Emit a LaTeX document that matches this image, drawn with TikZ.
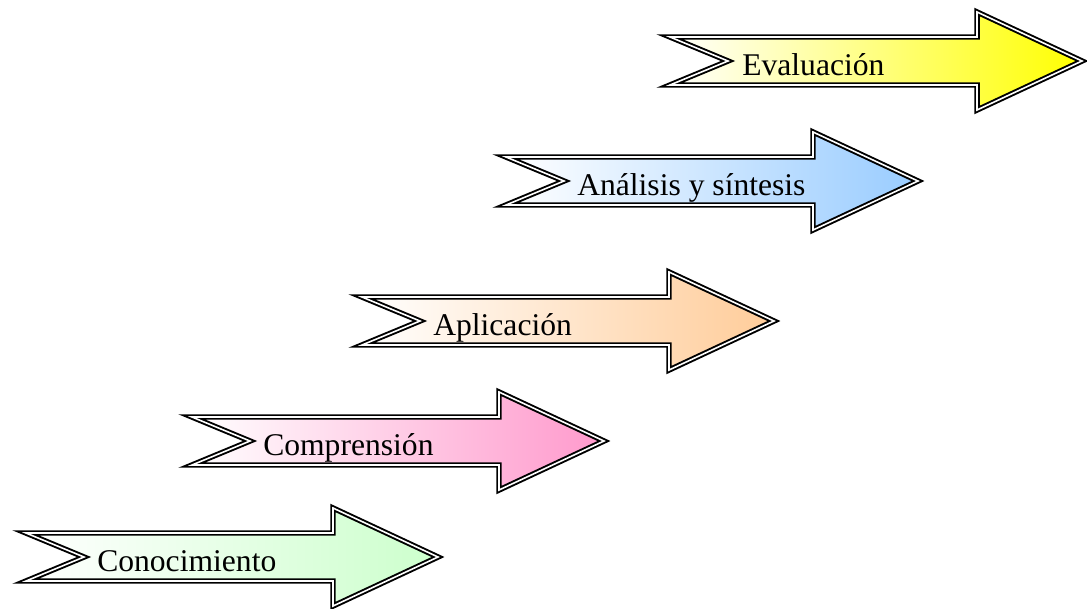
\documentclass[tikz,border=0pt]{standalone}
\usepackage{fontspec}
\setmainfont{Liberation Serif}

\definecolor{verdeC}{HTML}{CCFFCC}
\definecolor{rosaC}{HTML}{FF99CC}
\definecolor{naranjaC}{HTML}{FFCC99}
\definecolor{azulC}{HTML}{99CCFF}
\definecolor{amarilloC}{HTML}{FFFF00}

\begin{document}
\begin{tikzpicture}[
    x=0.75pt, y=-0.75pt,
    escalon/.style={draw=black, line width=1.45pt, double=white, double distance=1.2pt, line join=miter, left color=white},
    etiqueta/.style={anchor=base west, inner sep=0pt, font=\fontsize{23.7}{28}\selectfont},
    pics/flecha/.style={code={
        \draw[escalon, right color=#1] (0,-24) -- (307,-24) -- (307,-49) -- (412,0)
            -- (307,49) -- (307,24) -- (0,24) -- (58,0) -- cycle;
    }}
]
\useasboundingbox (0,0) rectangle (1087,608);

% ESCALONES
\pic at (26,557) {flecha=verdeC};
\pic at (192,441) {flecha=rosaC};
\pic at (362,321) {flecha=naranjaC};
\pic at (506,181) {flecha=azulC};
\pic at (670,61) {flecha=amarilloC};

% TEXTOS
\node[etiqueta] (conoc) at (97,571) {Conocimiento};
\node[etiqueta] (compr) at (263,455) {Comprensión};
\node[etiqueta] (aplic) at (433,335) {Aplicación};
\node[etiqueta] (analis) at (577,195) {Análisis y síntesis};
\node[etiqueta] (evalua) at (742,75) {Evaluación};

\end{tikzpicture}
\end{document}
